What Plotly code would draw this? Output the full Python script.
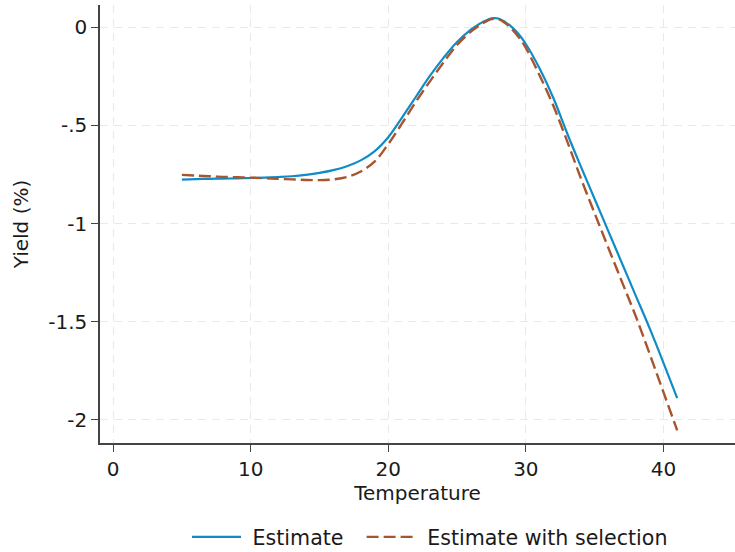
import plotly.graph_objects as go

temperature = [5, 6, 7, 8, 9, 10, 11, 12, 13, 14, 15, 16, 17, 18, 19, 20, 21, 22, 23, 24, 25, 26, 26.5, 27, 27.5, 28, 28.5, 29, 29.5, 30, 31, 32, 33, 34, 35, 36, 37, 38, 39, 40, 41]
estimate = [-0.776, -0.774, -0.772, -0.771, -0.770, -0.768, -0.766, -0.763, -0.759, -0.752, -0.742, -0.728, -0.708, -0.678, -0.632, -0.56, -0.46, -0.355, -0.25, -0.157, -0.075, -0.012, 0.012, 0.032, 0.046, 0.045, 0.027, 0.0, -0.036, -0.085, -0.21, -0.36, -0.54, -0.71, -0.875, -1.04, -1.205, -1.37, -1.535, -1.71, -1.89]
estimate_sel = [-0.752, -0.756, -0.759, -0.762, -0.764, -0.766, -0.769, -0.772, -0.775, -0.778, -0.779, -0.775, -0.763, -0.735, -0.685, -0.595, -0.49, -0.38, -0.278, -0.18, -0.09, -0.022, 0.004, 0.026, 0.042, 0.042, 0.022, -0.01, -0.052, -0.105, -0.245, -0.40, -0.58, -0.77, -0.948, -1.125, -1.30, -1.475, -1.665, -1.86, -2.055]

x_ticks = [0, 10, 20, 30, 40]
y_ticks = [0, -0.5, -1, -1.5, -2]
y_ticktext = ["0", "-.5", "-1", "-1.5", "-2"]

FONT = "DejaVu Sans"
BLUE = "#0f8cc6"
BROWN = "#a8552d"

fig = go.Figure()
fig.add_trace(go.Scatter(x=temperature, y=estimate, mode="lines", name="\u00a0Estimate\u00a0\u00a0",
                         line=dict(color=BLUE, width=2.2, shape="spline", smoothing=1.0)))
fig.add_trace(go.Scatter(x=temperature, y=estimate_sel, mode="lines", name="\u00a0Estimate with selection",
                         line=dict(color=BROWN, width=2.4, dash="12px,5px", shape="spline", smoothing=1.0)))

grid = dict(showgrid=True, gridcolor="#e9e9e9", gridwidth=1, griddash="8px,6px")
fig.update_layout(
    width=735, height=552,
    margin=dict(l=100, r=0, t=5, b=109, autoexpand=False),
    paper_bgcolor="white", plot_bgcolor="white",
    font=dict(family=FONT, size=20, color="#1a1a1a"),
    showlegend=True,
    legend=dict(orientation="h", x=(187 - 100) / 635, xanchor="left", y=-(537 - 443) / 438, yanchor="middle",
                font=dict(size=20.6), itemwidth=49, tracegroupgap=0),
    xaxis=dict(range=[-0.95, 45.2], tickvals=x_ticks, ticks="outside", ticklen=7, tickcolor="#444",
               showline=True, linecolor="#444", linewidth=1.5, zeroline=False,
               title=dict(text="Temperature", standoff=4, font=dict(size=20)), **grid),
    yaxis=dict(range=[-2.119, 0.114], tickvals=y_ticks, ticktext=y_ticktext, ticks="outside", ticklen=7,
               tickcolor="#444", showline=True, linecolor="#444", linewidth=1.5, zeroline=False,
               title=dict(text="Yield (%)", standoff=14, font=dict(size=20)), **grid),
)
fig.write_html("out.html", config={"displayModeBar": False},
               post_script="document.body.style.margin='0';")
